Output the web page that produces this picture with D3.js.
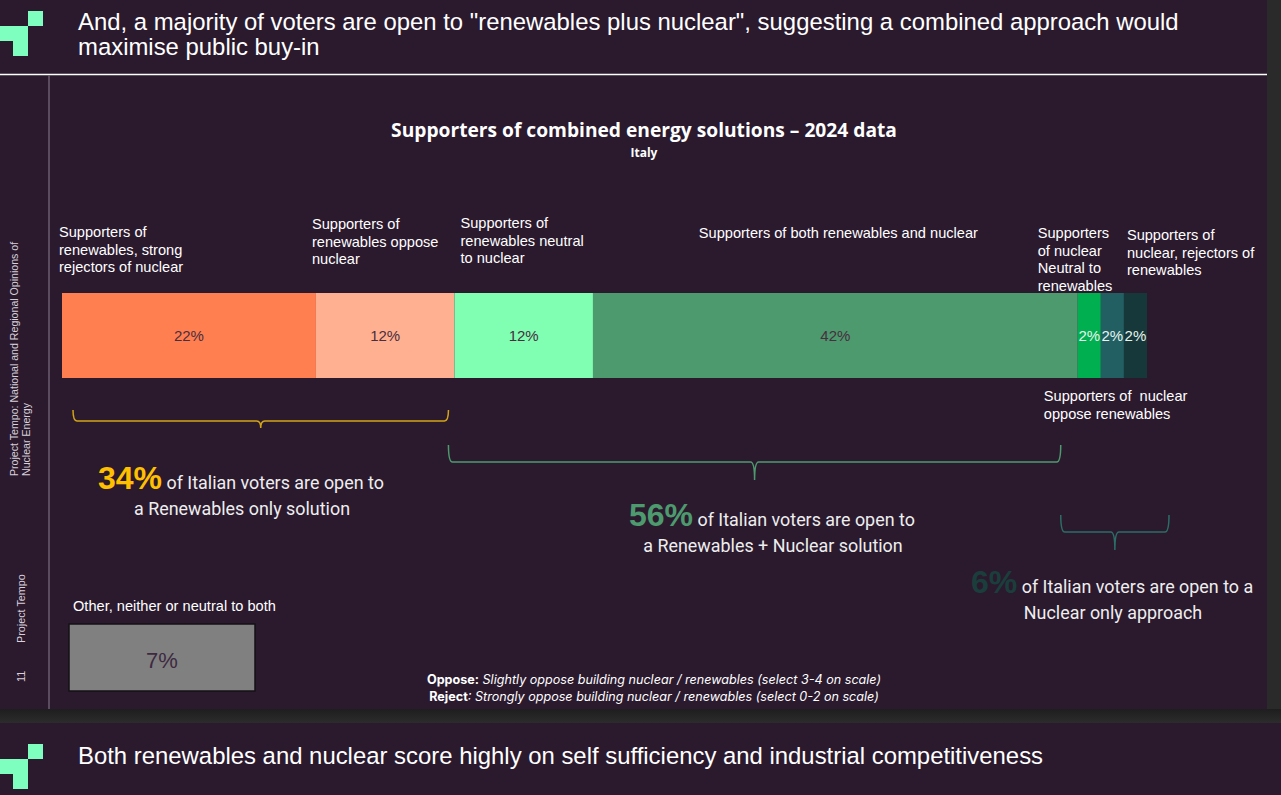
<!DOCTYPE html>
<html><head><meta charset="utf-8">
<script src="https://cdn.jsdelivr.net/npm/d3@7"></script>
<style>
html,body{margin:0;padding:0;background:#2b1a2e;}
svg{display:block;}
</style></head>
<body>
<script>
// ---- data ----
const categories = [
  "Supporters of renewables, strong rejectors of nuclear",
  "Supporters of renewables oppose nuclear",
  "Supporters of renewables neutral to nuclear",
  "Supporters of both renewables and nuclear",
  "Supporters of nuclear Neutral to renewables",
  "Supporters of  nuclear oppose renewables",
  "Supporters of nuclear, rejectors of renewables"
];
const values = [22, 12, 12, 42, 2, 2, 2];
const valueLabels = ["22%", "12%", "12%", "42%", "2%", "2%", "2%"];
const segColors = ["#ff7f50", "#ffb091", "#80ffb3", "#4d9a6e", "#00b050", "#215f62", "#16383a"];
const groupNames = ["Renewables only solution", "Renewables + Nuclear solution", "Nuclear only approach"];
const groupValues = [34, 56, 6];
const otherValue = 7;

const W = 1281, H = 795;
const svg = d3.select("body").append("svg").attr("width", W).attr("height", H);

// backgrounds
svg.append("rect").attr("x",0).attr("y",0).attr("width",W).attr("height",H).attr("fill","#2b1a2e");
svg.append("rect").attr("x",1267).attr("y",0).attr("width",14).attr("height",723).attr("fill","#2a2a2a");
const bandGrad = svg.append("defs").append("linearGradient").attr("id","band").attr("x1",0).attr("x2",0).attr("y1",0).attr("y2",1);
bandGrad.append("stop").attr("offset","0%").attr("stop-color","#1e1e1e");
bandGrad.append("stop").attr("offset","100%").attr("stop-color","#2c2c2c");
svg.append("rect").attr("x",0).attr("y",709).attr("width",W).attr("height",14).attr("fill","url(#band)");

// logos
function logo(y0){
  const g = svg.append("g").attr("fill","#7fffbf");
  g.append("rect").attr("x",28).attr("y",y0).attr("width",15).attr("height",15);
  g.append("rect").attr("x",0).attr("y",y0+15).attr("width",28).attr("height",15);
  g.append("rect").attr("x",13).attr("y",y0+29).attr("width",15).attr("height",16);
}
logo(11); logo(744);

const sans = "'Liberation Sans', Arial, sans-serif";
// slide title
const t1 = svg.append("text").attr("x",78).attr("y",30).attr("fill","#ffffff").attr("font-family",sans).attr("font-size",23.9);
t1.append("tspan").attr("x",78).attr("dy",0).text('And, a majority of voters are open to "renewables plus nuclear", suggesting a combined approach would');
t1.append("tspan").attr("x",78).attr("dy",25).text("maximise public buy-in");
svg.append("line").attr("x1",0).attr("x2",1267).attr("y1",74.5).attr("y2",74.5).attr("stroke","#ffffff").attr("stroke-width",1.5);
svg.append("line").attr("x1",49).attr("x2",49).attr("y1",75).attr("y2",709).attr("stroke","#6e5e70").attr("stroke-width",1.5);

svg.append("text").attr("x",78).attr("y",764).attr("fill","#ffffff").attr("font-family",sans).attr("font-size",23.9)
  .text("Both renewables and nuclear score highly on self sufficiency and industrial competitiveness");

// side texts
const side = svg.append("g").attr("fill","#d8d0da").attr("font-family",sans);
side.append("text").attr("transform","translate(18,476) rotate(-90)").attr("font-size",10.6).text("Project Tempo: National and Regional Opinions of");
side.append("text").attr("transform","translate(30,476) rotate(-90)").attr("font-size",10.6).text("Nuclear Energy");
side.append("text").attr("transform","translate(25,643) rotate(-90)").attr("font-size",10.8).text("Project Tempo");
side.append("text").attr("transform","translate(25,682) rotate(-90)").attr("font-size",10.8).text("11");

// chart title
svg.append("text").attr("x",644).attr("y",137).attr("text-anchor","middle").attr("fill","#ffffff")
  .attr("font-family","'Open Sans', 'Noto Sans', sans-serif").attr("font-weight",700).attr("font-size",19.2)
  .text("Supporters of combined energy solutions \u2013 2024 data");
svg.append("text").attr("x",644).attr("y",157).attr("text-anchor","middle").attr("fill","#ffffff")
  .attr("font-family","'Open Sans', 'Noto Sans', sans-serif").attr("font-weight",700).attr("font-size",12)
  .text("Italy");

// bar
const total = d3.sum(values);
const x = d3.scaleLinear().domain([0, total]).range([62, 1147]);
const ends = Array.from(d3.cumsum(values));
const starts = ends.map((e,i)=>e-values[i]);
const barY = 293, barH = 85;
const segs = values.map((v,i)=>({v, i, s:starts[i], e:ends[i]}));
svg.append("g").selectAll("rect").data(segs).join("rect")
  .attr("x", d=>x(d.s)).attr("y", barY).attr("width", d=>x(d.e)-x(d.s)).attr("height", barH)
  .attr("fill", d=>segColors[d.i]);
svg.append("g").selectAll("text").data(segs).join("text")
  .attr("x", d=>(x(d.s)+x(d.e))/2).attr("y", barY+barH/2+5).attr("text-anchor","middle")
  .attr("font-family",sans).attr("font-size",15)
  .attr("fill", d=>d.i<4?"#4a2e40":"#e8f4ee")
  .text(d=>valueLabels[d.i]);

// category labels
const catLines = [
  ["Supporters of","renewables, strong","rejectors of nuclear"],
  ["Supporters of","renewables oppose","nuclear"],
  ["Supporters of","renewables neutral","to nuclear"],
  ["Supporters of both renewables and nuclear"],
  ["Supporters","of nuclear","Neutral to","renewables"],
  ["Supporters of  nuclear","oppose renewables"],
  ["Supporters of","nuclear, rejectors of","renewables"]
];
const catPos = [
  {dx:-3, y:237, anchor:"start"},
  {dx:-4, y:229, anchor:"start"},
  {dx:6, y:228, anchor:"start"},
  {dx:null, y:238, anchor:"middle"},
  {dx:-40, y:238, anchor:"start"},
  {dx:-57, y:401, anchor:"start"},
  {dx:3, y:240, anchor:"start"}
];
catLines.forEach((lines,i)=>{
  const p = catPos[i];
  const xx = p.dx===null ? (x(starts[i])+x(ends[i]))/2 + 3 : x(starts[i]) + p.dx;
  const t = svg.append("text").attr("y",p.y).attr("fill","#ffffff").attr("font-family",sans)
    .attr("font-size",14.6).attr("text-anchor",p.anchor).attr("xml:space","preserve");
  lines.forEach((l,j)=>t.append("tspan").attr("x", xx).attr("dy", j===0?0:17.6).text(l));
});

// braces
function brace(x1, x2, yTop, depth, tip, color){
  const xm = (x1+x2)/2, yb = yTop+depth;
  const r = 4;
  const p = d3.path();
  p.moveTo(x1, yTop);
  p.quadraticCurveTo(x1, yb, x1+r, yb);
  p.lineTo(xm-r, yb);
  p.quadraticCurveTo(xm, yb, xm, yb+tip);
  p.quadraticCurveTo(xm, yb, xm+r, yb);
  p.lineTo(x2-r, yb);
  p.quadraticCurveTo(x2, yb, x2, yTop);
  svg.append("path").attr("d", p.toString()).attr("fill","none").attr("stroke",color).attr("stroke-width",1.5);
}
// brace spans follow segment boundaries: 0..34 (first three less third), 34..88, 88..total
brace(x(0)+11, x(starts[2])-6, 410, 11, 7, "#d4a514");
brace(x(starts[2])-6, x(starts[4])-17, 445, 17, 18, "#4d9a6e");
brace(x(starts[4])-17, x(total)+22, 515, 17, 18, "#2b6e68");

// group statements
const bodyFont = "Roboto, 'Open Sans', sans-serif";
function statement(xStart, yBase, pct, color, rest, line2, cx2){
  const t = svg.append("text").attr("x",xStart).attr("y",yBase).attr("font-family",bodyFont).attr("fill","#eeeeee");
  t.append("tspan").attr("font-family",sans).attr("font-weight",700).attr("font-size",32).attr("fill",color).text(pct+"%");
  t.append("tspan").attr("font-size",17.9).text(" " + rest);
  svg.append("text").attr("x",cx2).attr("y",yBase+26).attr("text-anchor","middle").attr("font-family",bodyFont)
    .attr("font-size",17.9).attr("fill","#eeeeee").text(line2);
}
statement(98, 489, groupValues[0], "#ffc000", "of Italian voters are open to", "a " + groupNames[0], 242);
statement(629, 526, groupValues[1], "#4d9a6e", "of Italian voters are open to", "a " + groupNames[1], 773);
statement(971, 593, groupValues[2], "#1a3e3b", "of Italian voters are open to a", groupNames[2], 1113);

// other box
svg.append("text").attr("x",73).attr("y",611).attr("font-family",sans).attr("font-size",14.6).attr("fill","#ffffff")
  .text("Other, neither or neutral to both");
svg.append("rect").attr("x",69).attr("y",624).attr("width",186).attr("height",67).attr("fill","#808080").attr("stroke","#151015").attr("stroke-width",1.5);
svg.append("text").attr("x",162).attr("y",668).attr("text-anchor","middle").attr("font-family",sans).attr("font-size",22)
  .attr("fill","#3e2a40").text(otherValue + "%");

// footnote
const fn = "Inter, 'Liberation Sans', sans-serif";
const f1 = svg.append("text").attr("x",654).attr("y",684).attr("text-anchor","middle").attr("font-family",fn).attr("font-size",12.6).attr("fill","#ffffff");
f1.append("tspan").attr("font-weight",700).text("Oppose:");
f1.append("tspan").attr("font-style","italic").text(" Slightly oppose building nuclear / renewables (select 3-4 on scale)");
const f2 = svg.append("text").attr("x",654).attr("y",701).attr("text-anchor","middle").attr("font-family",fn).attr("font-size",12.6).attr("fill","#ffffff");
f2.append("tspan").attr("font-weight",700).text("Reject");
f2.append("tspan").attr("font-style","italic").text(": Strongly oppose building nuclear / renewables (select 0-2 on scale)");
</script>
</body></html>
